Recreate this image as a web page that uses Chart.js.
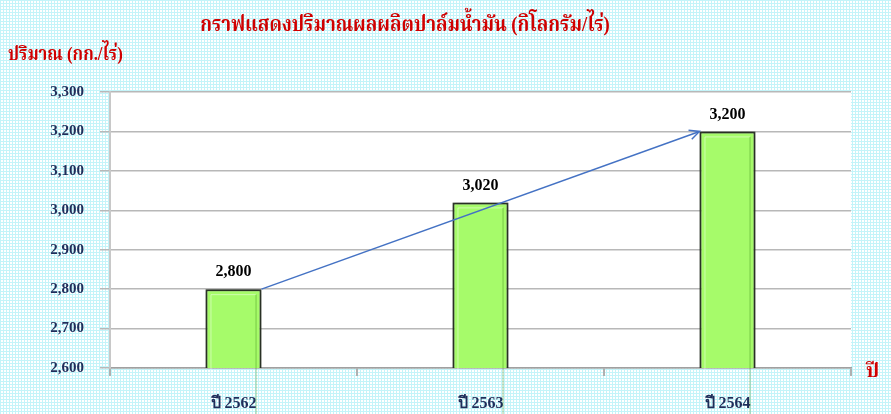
<!DOCTYPE html>
<html>
<head>
<meta charset="utf-8">
<script src="https://cdn.jsdelivr.net/npm/chart.js@4/dist/chart.umd.min.js"></script>
<style>
  html, body { margin: 0; padding: 0; }
  body {
    width: 891px; height: 414px; overflow: hidden; position: relative;
    background-color: #ffffff;
    background-image:
      linear-gradient(to right, #c4f4f9 1px, transparent 1px),
      linear-gradient(to bottom, #c4f4f9 1px, transparent 1px);
    background-size: 3px 3px;
  }
  #wrap { position: absolute; left: 0; top: 0; width: 891px; height: 414px; }
  .t { position: absolute; color: #d00000; font-weight: bold; white-space: nowrap;
       font-family: "Liberation Serif", "Noto Serif Thai", "Noto Sans Thai", serif; }
  #title { left: 405px; top: 8px; font-size: 22px; transform: translateX(-50%) scaleX(0.85); transform-origin: center; }
  #ytitle { left: 8px; top: 40px; font-size: 19px; transform: scaleX(0.88); transform-origin: left center; }
  #xtitle { left: 866px; top: 356px; font-size: 20px; }
</style>
</head>
<body>
<div id="wrap"><canvas id="c" width="891" height="414"></canvas></div>
<div class="t" id="title">กราฟแสดงปริมาณผลผลิตปาล์มน้ำมัน (กิโลกรัม/ไร่)</div>
<div class="t" id="ytitle">ปริมาณ (กก./ไร่)</div>
<div class="t" id="xtitle">ปี</div>
<script>
const categories = ["ปี 2562", "ปี 2563", "ปี 2564"];
const yieldValues = [2800, 3020, 3200];
const yTicks = [2600, 2700, 2800, 2900, 3000, 3100, 3200, 3300];

const fmt = v => Number(v).toLocaleString('en-US');

const bgPlugin = {
  id: 'plotBg',
  beforeDraw(chart) {
    const { ctx, chartArea: a } = chart;
    ctx.save();
    ctx.fillStyle = '#ffffff';
    ctx.fillRect(a.left, a.top, a.right - a.left, a.bottom - a.top);
    ctx.restore();
  }
};

const barStyle = {
  id: 'barStyle',
  beforeDatasetsDraw(chart) {
    const ctx = chart.ctx;
    ctx.save();
    ctx.shadowColor = 'rgba(0,0,0,0.45)';
    ctx.shadowBlur = 5;
    ctx.shadowOffsetY = -1;
  },
  afterDatasetsDraw(chart) {
    const ctx = chart.ctx;
    ctx.restore();
    const meta = chart.getDatasetMeta(0);
    ctx.save();
    meta.data.forEach((bar, i) => {
      const l = bar.x - bar.width / 2, r = bar.x + bar.width / 2;
      const t = bar.y, b = bar.base;
      ctx.lineWidth = 1;
      ctx.strokeStyle = 'rgba(255,255,255,0.45)';
      ctx.beginPath();
      ctx.moveTo(l + 5.5, b - 5.5); ctx.lineTo(l + 5.5, t + 5.5); ctx.lineTo(r - 5.5, t + 5.5);
      ctx.stroke();
      ctx.strokeStyle = 'rgba(60,140,20,0.45)';
      ctx.beginPath();
      ctx.moveTo(r - 5.5, t + 5.5); ctx.lineTo(r - 5.5, b - 5.5); ctx.lineTo(l + 5.5, b - 5.5);
      ctx.stroke();
      ctx.fillStyle = '#000000';
      ctx.font = 'bold 16px "Liberation Serif", serif';
      ctx.textAlign = 'center';
      ctx.textBaseline = 'middle';
      ctx.fillText(fmt(yieldValues[i]), bar.x, t - 17);
    });
    const b0 = meta.data[0], b2 = meta.data[meta.data.length - 1];
    const x1 = b0.x + b0.width / 2, y1 = b0.y;
    const x2 = b2.x - b2.width / 2, y2 = b2.y;
    ctx.strokeStyle = '#4472c4';
    ctx.lineWidth = 1.5;
    ctx.beginPath(); ctx.moveTo(x1, y1); ctx.lineTo(x2, y2); ctx.stroke();
    const ang = Math.atan2(y2 - y1, x2 - x1), L = 11, sp = 0.45;
    ctx.beginPath();
    ctx.moveTo(x2 - L * Math.cos(ang - sp), y2 - L * Math.sin(ang - sp));
    ctx.lineTo(x2, y2);
    ctx.lineTo(x2 - L * Math.cos(ang + sp), y2 - L * Math.sin(ang + sp));
    ctx.stroke();
    ctx.restore();
  }
};

new Chart(document.getElementById('c'), {
  type: 'bar',
  data: {
    labels: categories,
    datasets: [{
      data: yieldValues,
      backgroundColor: '#a6fb6a',
      borderColor: '#333d2e',
      borderWidth: 2,
      borderSkipped: false,
      categoryPercentage: 1,
      barPercentage: 0.227
    }]
  },
  options: {
    responsive: false,
    animation: false,
    devicePixelRatio: 1,
    layout: { padding: { top: 92, right: 40, bottom: 0, left: 0 } },
    plugins: { legend: { display: false }, title: { display: false }, tooltip: { enabled: false } },
    scales: {
      x: {
        offset: true,
        afterFit(s) { s.height = 46; },
        grid: { offset: true, drawOnChartArea: false, drawTicks: true, tickLength: 8, color: '#b0b0b0', lineWidth: 2 },
        border: { color: '#a0a0a0', width: 1.5 },
        ticks: { color: '#1f2d5a', padding: 18, font: { family: '"Liberation Serif", serif', weight: 'bold', size: 16 } }
      },
      y: {
        min: yTicks[0],
        max: yTicks[yTicks.length - 1],
        afterFit(s) { s.width = 110; },
        afterBuildTicks(s) { s.ticks = yTicks.map(v => ({ value: v })); },
        grid: { color: '#b8b8b8', lineWidth: 1.5, tickLength: 10 },
        border: { color: '#c8c8c8', width: 2 },
        ticks: { color: '#1f2d5a', padding: 16, callback: v => fmt(v), font: { family: '"Liberation Serif", serif', weight: 'bold', size: 15 } }
      }
    }
  },
  plugins: [bgPlugin, barStyle]
});
</script>
</body>
</html>
